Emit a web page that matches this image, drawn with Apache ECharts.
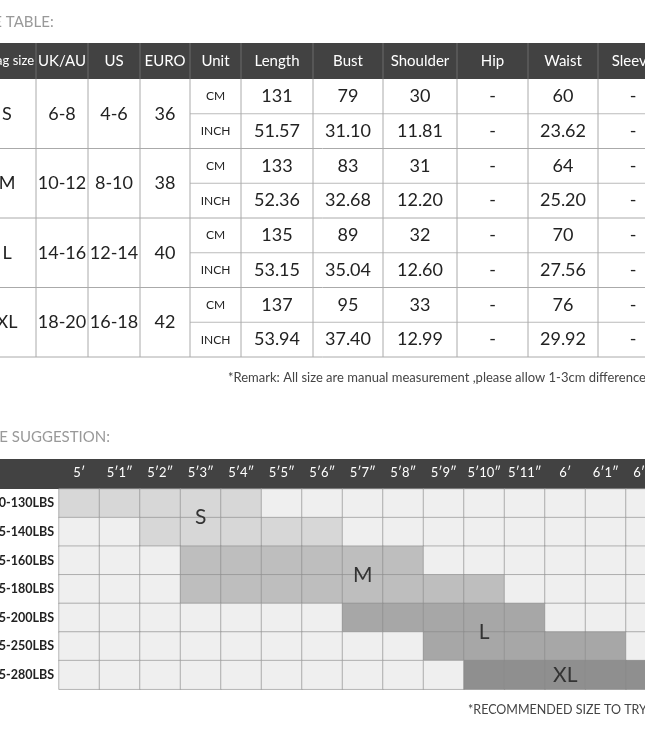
<!DOCTYPE html>
<html lang="en">
<head>
<meta charset="UTF-8">
<title>size chart</title>
<style>
body,html{width:100%;height:100%;margin:0;padding:0;background:#fff;}
#main{width:645px;height:742px;}
</style>
</head>
<body>
<div id="main"></div>
<script src="https://cdn.jsdelivr.net/npm/echarts@6/dist/echarts.min.js"></script>
<script>
// size table data
var tableHeads = ['Tag size','UK/AU','US','EURO','Unit','Length','Bust','Shoulder','Hip','Waist','Sleeve'];
var tagSizes = ['S','M','L','XL'];
var ukSizes = ['6-8','10-12','14-16','18-20'];
var usSizes = ['4-6','8-10','12-14','16-18'];
var euroSizes = ['36','38','40','42'];
var cmRows = [
  ['131','79','30','-','60','-'],
  ['133','83','31','-','64','-'],
  ['135','89','32','-','70','-'],
  ['137','95','33','-','76','-']
];
var inchRows = [
  ['51.57','31.10','11.81','-','23.62','-'],
  ['52.36','32.68','12.20','-','25.20','-'],
  ['53.15','35.04','12.60','-','27.56','-'],
  ['53.94','37.40','12.99','-','29.92','-']
];
// size suggestion data
var heights = ["5′","5′1″","5′2″","5′3″","5′4″","5′5″","5′6″","5′7″","5′8″","5′9″","5′10″","5′11″","6′","6′1″","6′2″"];
var weights = ['110-130LBS','135-140LBS','145-160LBS','165-180LBS','185-200LBS','205-250LBS','255-280LBS'];
// [row, fromCol, toCol, size]
var suggestRanges = [[0,0,4,'S'],[1,2,6,'S'],[2,3,8,'M'],[3,3,10,'M'],[4,7,11,'L'],[5,9,13,'L'],[6,10,14,'XL']];
var sizeLabels = [['S',3,0.5],['M',7,2.5],['L',10,4.5],['XL',12,6]];

var sizeColor = {S:'#d7d7d7', M:'#bebebe', L:'#a7a7a7', XL:'#8f8f8f'};
var sizeLevel = {S:1, M:2, L:3, XL:4};
var font = 'Lato, Open Sans, sans-serif';

var colEdges = [-22,36,88,140,190,241,313,383,457,528,598,668];
var headTop = 43, headBottom = 79, rowH = 69.5;
var g = [];
function cx(i){ return (colEdges[i]+colEdges[i+1])/2; }
function txt(x,y,s,size,color,align){
  var t = {type:'text',x:x,y:y,z:10,style:{text:s,font:size+'px '+font,fill:color,align:align||'center',verticalAlign:'middle'}};
  g.push(t);
  return t;
}
function line(x1,y1,x2,y2,c){
  g.push({type:'line',shape:{x1:x1,y1:y1,x2:x2,y2:y2},style:{stroke:c||'#aaa',lineWidth:1}});
}
txt(-28,22,'SIZE TABLE:',15,'#999','left');
g.push({type:'rect',shape:{x:-30,y:headTop,width:700,height:headBottom-headTop},style:{fill:'#424242'}});
tableHeads.forEach(function(h,i){
  var t = txt(cx(i),61,h,i==0?13:15,'#fff');
  if(i==0){ t.x = 34; t.style.align = 'right'; }
  if(i>0) line(colEdges[i],headTop,colEdges[i],headBottom,'#6a6a6a');
});
tagSizes.forEach(function(s,r){
  var top = headBottom + r*rowH, mid = top + rowH/2;
  txt(cx(0),mid,s,18,'#222');
  txt(cx(1),mid,ukSizes[r],18,'#222');
  txt(cx(2),mid,usSizes[r],18,'#222');
  txt(cx(3),mid,euroSizes[r],18,'#222');
  txt(cx(4),top+rowH/4,'CM',12,'#222');
  txt(cx(4),top+rowH*3/4,'INCH',12,'#222');
  cmRows[r].forEach(function(v,j){ txt(cx(5+j),top+rowH/4,v,18,'#222'); });
  inchRows[r].forEach(function(v,j){ txt(cx(5+j),top+rowH*3/4,v,18,'#222'); });
  line(colEdges[4],top+rowH/2,700,top+rowH/2,'#bbb');
  line(-30,top+rowH,700,top+rowH,'#aaa');
});
for(var i=1;i<colEdges.length-1;i++) line(colEdges[i],headBottom,colEdges[i],headBottom+4*rowH,'#aaa');
txt(228,378,'*Remark: All size are manual measurement ,please allow 1-3cm difference',13,'#444','left');

// suggestion section
var gLeft = 59, gTop = 489, cellW = 40.5, cellH = 28.6;
txt(-22,437,'SIZE SUGGESTION:',15,'#999','left');
g.push({type:'rect',shape:{x:-30,y:459,width:700,height:gTop-459},style:{fill:'#424242'},z:-1});
txt(468,710,'*RECOMMENDED SIZE TO TRY ON',12.5,'#444','left');
sizeLabels.forEach(function(l){
  txt(gLeft+l[1]*cellW+cellW/2,gTop+l[2]*cellH+cellH/2,l[0],21,'#333');
});

var cells = [];
weights.forEach(function(w,r){
  heights.forEach(function(h,c){
    var size = null;
    suggestRanges.forEach(function(s){ if(s[0]==r && c>=s[1] && c<=s[2]) size = s[3]; });
    cells.push({value:[c,r,size?sizeLevel[size]:0],itemStyle:{color:size?sizeColor[size]:'#efefef'}});
  });
});

var chart = echarts.init(document.getElementById('main'));
chart.setOption({
  animation:false,
  graphic:g,
  grid:{left:gLeft,top:gTop,width:cellW*heights.length,height:cellH*weights.length,outerBoundsMode:'none',containLabel:false},
  xAxis:{type:'category',data:heights,position:'top',axisLine:{show:false},axisTick:{show:false},
    axisLabel:{color:'#fff',fontSize:13,margin:10,fontFamily:font,interval:0,hideOverlap:false},splitArea:{show:false}},
  yAxis:{type:'category',data:weights,inverse:true,axisLine:{show:false},axisTick:{show:false},
    axisLabel:{color:'#222',fontSize:12.5,fontWeight:'bold',margin:5,fontFamily:font,interval:0}},
  series:[{type:'heatmap',data:cells,itemStyle:{borderColor:'#8a8a8a',borderWidth:0.6},
    label:{show:false},emphasis:{disabled:true}}]
});
</script>
</body>
</html>
